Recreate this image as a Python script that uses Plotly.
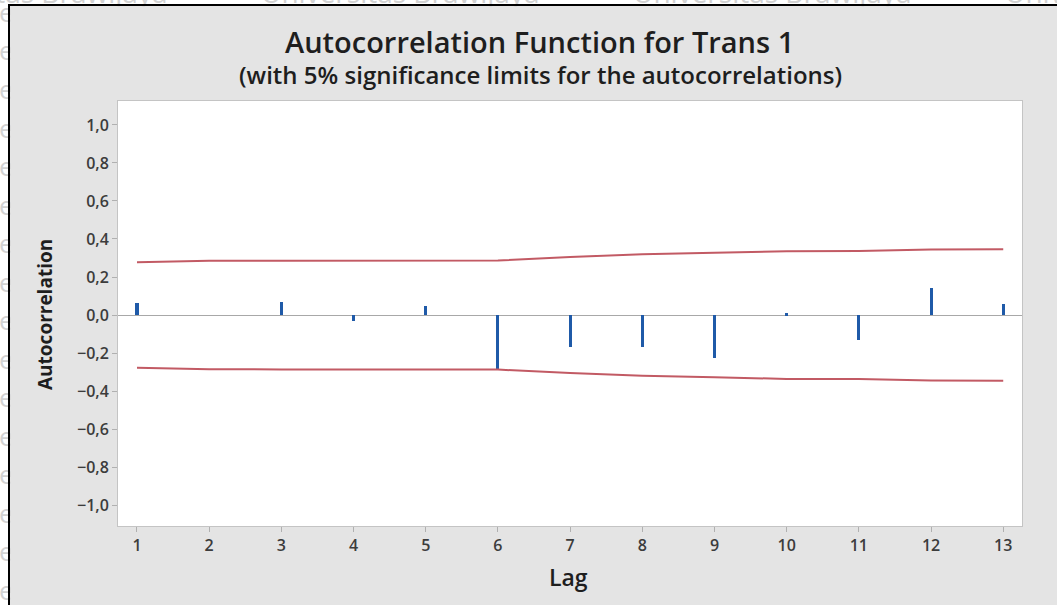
import plotly.graph_objects as go

# ---- data ----
lags = [1, 2, 3, 4, 5, 6, 7, 8, 9, 10, 11, 12, 13]
acf = [0.065, 0.0, 0.07, -0.03, 0.045, -0.29, -0.167, -0.17, -0.225, 0.01, -0.13, 0.144, 0.058]
upper_limit = [0.277, 0.285, 0.286, 0.286, 0.286, 0.287, 0.305, 0.320, 0.328, 0.336, 0.337, 0.345, 0.346]
lower_limit = [-v for v in upper_limit]
y_ticks = [-1.0, -0.8, -0.6, -0.4, -0.2, 0.0, 0.2, 0.4, 0.6, 0.8, 1.0]
x_ticks = lags

title_text = "Autocorrelation Function for Trans 1"
subtitle_text = "(with 5% significance limits for the autocorrelations)"

W, H = 1057, 605
L, R, T, B = 118, 1022, 101, 526  # plot area in pixels


def px(x):
    return (x - L) / (R - L)


def py(y):
    return (B - y) / (B - T)


FONT = "Open Sans"
BLUE = "#1f5aa8"
RED = "#c25a64"
BG = "#e4e4e4"
NBSP = "\u00a0"

fig = go.Figure()

fig.add_trace(go.Scatter(x=lags, y=upper_limit, mode="lines",
                         line=dict(color=RED, width=2), hoverinfo="skip", showlegend=False))
fig.add_trace(go.Scatter(x=lags, y=lower_limit, mode="lines",
                         line=dict(color=RED, width=2), hoverinfo="skip", showlegend=False))
fig.add_trace(go.Bar(x=lags, y=acf, width=0.042, marker=dict(color=BLUE, line=dict(width=0)),
                     showlegend=False))

shapes = [
    # white strips outside the frame
    dict(type="rect", xref="paper", yref="paper", x0=px(-5), x1=px(9), y0=py(W), y1=py(-5),
         fillcolor="white", line=dict(width=0), layer="below"),
    dict(type="rect", xref="paper", yref="paper", x0=px(-5), x1=px(W + 5), y0=py(5), y1=py(-5),
         fillcolor="white", line=dict(width=0), layer="below"),
]

annotations = []
# faint watermark remnants along the top and left edges
for x0 in [-113, 259, 631, 1003]:
    annotations.append(dict(text="Universitas Brawijaya", x=px(x0), y=py(13), xref="paper", yref="paper",
                            xanchor="left", yanchor="bottom", showarrow=False,
                            font=dict(family=FONT, size=28, color="#d2d2d2")))
for k in range(16):
    annotations.append(dict(text="e", x=px(-3), y=py(12 + 38.5 * k), xref="paper", yref="paper",
                            xanchor="left", yanchor="middle", showarrow=False,
                            font=dict(family=FONT, size=26, color="#d2d2d2")))

# grey covers inside the frame (hide watermark overflow)
annotations.append(dict(text=NBSP, x=px(10), y=py(6), xref="paper", yref="paper", xanchor="left",
                        yanchor="top", showarrow=False, width=1060, height=12, borderpad=0,
                        bgcolor=BG, font=dict(size=2, color=BG)))
annotations.append(dict(text=NBSP, x=px(10), y=py(6), xref="paper", yref="paper", xanchor="left",
                        yanchor="top", showarrow=False, width=14, height=610, borderpad=0,
                        bgcolor=BG, font=dict(size=2, color=BG)))
# black document frame (left and top edges visible; the others fall outside the page)
annotations.append(dict(text=NBSP, x=px(8), y=py(4), xref="paper", yref="paper", xanchor="left",
                        yanchor="top", showarrow=False, width=1100, height=700, borderpad=0,
                        bgcolor="rgba(0,0,0,0)", bordercolor="black", borderwidth=2,
                        font=dict(size=2, color="rgba(0,0,0,0)")))

annotations += [
    dict(text=title_text, x=px(539), y=py(42), xref="paper", yref="paper", xanchor="center",
         yanchor="middle", showarrow=False,
         font=dict(family=FONT, size=29, color="#1e1e1e", weight=600)),
    dict(text=subtitle_text, x=px(540), y=py(75), xref="paper", yref="paper", xanchor="center",
         yanchor="middle", showarrow=False,
         font=dict(family=FONT, size=24, color="#1e1e1e", weight=600)),
    dict(text="Autocorrelation", x=px(45), y=py(315), xref="paper", yref="paper", xanchor="center",
         yanchor="middle", showarrow=False, textangle=-90,
         font=dict(family=FONT, size=19, color="#1e1e1e", weight=700)),
    dict(text="Lag", x=px(568), y=py(577), xref="paper", yref="paper", xanchor="center",
         yanchor="middle", showarrow=False,
         font=dict(family=FONT, size=23, color="#1e1e1e", weight=600)),
]

fig.update_layout(
    width=W, height=H,
    margin=dict(l=L, r=W - R, t=T, b=H - B, pad=0),
    paper_bgcolor=BG,
    plot_bgcolor="white",
    separators=",.",
    bargap=0,
    shapes=shapes,
    annotations=annotations,
    showlegend=False,
)

fig.update_xaxes(
    range=[0.737, 13.26], tickmode="array", tickvals=x_ticks, ticktext=[str(v) for v in x_ticks],
    showgrid=False, zeroline=False, showline=True, linecolor="#c4c4c4", linewidth=1, mirror=True,
    ticks="outside", ticklen=5, tickcolor="#b0b0b0",
    tickfont=dict(family=FONT, size=16, color="#3c3c3c", weight=600),
)
fig.update_yaxes(
    range=[-1.11, 1.126], tickmode="array", tickvals=y_ticks, tickformat=".1f",
    showgrid=False, zeroline=True, zerolinecolor="#a8a8a8", zerolinewidth=1,
    showline=True, linecolor="#c4c4c4", linewidth=1, mirror=True,
    ticks="outside", ticklen=5, tickcolor="#b0b0b0",
    tickfont=dict(family=FONT, size=16, color="#3c3c3c", weight=600),
)

fig.write_html("out.html")
